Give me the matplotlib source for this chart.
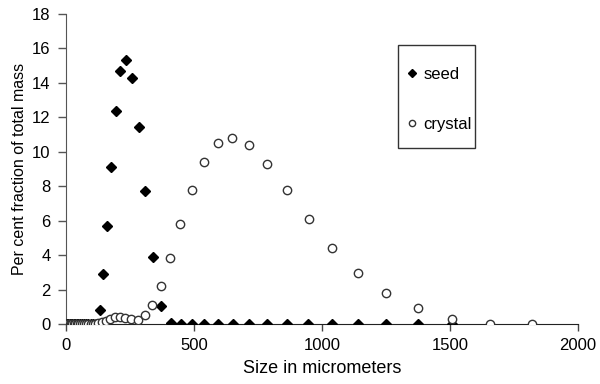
import matplotlib
matplotlib.use("Agg")
import matplotlib.pyplot as plt
from matplotlib.patches import Rectangle

plt.rcParams['font.family'] = ['Liberation Sans', 'DejaVu Sans']

# seed series
seed_x = [4, 9, 14, 19, 24, 30, 36, 42, 48, 55, 62, 70, 78, 87, 96, 106, 116,
          134, 144, 160, 176, 194, 212, 233, 256, 284, 310, 340, 373,
          410, 449, 494, 541, 594, 652, 717, 787, 863, 946, 1040, 1141, 1251, 1377, 1510]
seed_y = [0, 0, 0, 0, 0, 0, 0, 0, 0, 0, 0, 0, 0, 0, 0, 0, 0,
          0.83, 2.9, 5.71, 9.11, 12.37, 14.65, 15.33, 14.27, 11.45, 7.70, 3.92, 1.06,
          0.06, 0.02, 0, 0, 0, 0, 0, 0, 0, 0, 0, 0, 0, 0, 0]

# crystal series
crystal_x = [4, 9, 14, 19, 24, 30, 36, 42, 48, 55, 62, 70, 78, 87, 96, 104, 112, 124,
             139, 155, 172, 190, 211, 232, 255, 280, 308, 338, 371, 408, 447, 493, 538,
             593, 650, 715, 786, 862, 948, 1040, 1141, 1251, 1377, 1510, 1658, 1822]
crystal_y = [0, 0, 0, 0, 0, 0, 0, 0, 0, 0, 0, 0, 0, 0, 0, 0.02, 0.02, 0.06,
             0.12, 0.21, 0.33, 0.41, 0.44, 0.39, 0.29, 0.27, 0.54, 1.12, 2.24, 3.86, 5.79, 7.76, 9.40,
             10.48, 10.77, 10.37, 9.29, 7.80, 6.08, 4.44, 2.99, 1.80, 0.93, 0.31, 0.02, 0.02]

x_ticks = [0, 500, 1000, 1500, 2000]
y_ticks = [0, 2, 4, 6, 8, 10, 12, 14, 16, 18]

fig = plt.figure(figsize=(6, 3.84), dpi=100)
ax = fig.add_axes([0.11, 0.1555, 0.853, 0.809])

ax.plot(seed_x, seed_y, linestyle='none', marker='D', markersize=5,
        color='black', label='seed', zorder=3)
ax.plot(crystal_x, crystal_y, linestyle='none', marker='o', markersize=6,
        markerfacecolor='white', markeredgecolor='#333333', markeredgewidth=1.0,
        label='crystal', zorder=4)

ax.set_xlim(0, 2000)
ax.set_ylim(0, 18)
ax.set_xticks(x_ticks)
ax.set_yticks(y_ticks)
ax.tick_params(axis='x', direction='out', length=5, width=1, color='#444444',
               labelsize=12, pad=5)
ax.tick_params(axis='y', direction='out', length=6, width=1, color='#555555',
               labelsize=12, pad=5)
for s in ['top', 'right']:
    ax.spines[s].set_visible(False)
ax.spines['left'].set_color('#555555')
ax.spines['bottom'].set_color('#222222')
ax.set_xlabel('Size in micrometers', fontsize=13, labelpad=5)
ax.set_ylabel('Per cent fraction of total mass', fontsize=11.5, labelpad=4)

leg = ax.legend(loc='upper left', bbox_to_anchor=(0.6654, 0.829), fontsize=12,
                frameon=False, labelspacing=2.12, handlelength=0.6,
                handletextpad=0.4, borderpad=0, borderaxespad=0,
                markerscale=0.75)
fig.patches.append(Rectangle((398 / 600, 1 - 148 / 384), 77 / 600, 103 / 384,
                             transform=fig.transFigure, fill=False,
                             edgecolor='#333333', linewidth=1.0))

fig.savefig('out.png', dpi=100)
